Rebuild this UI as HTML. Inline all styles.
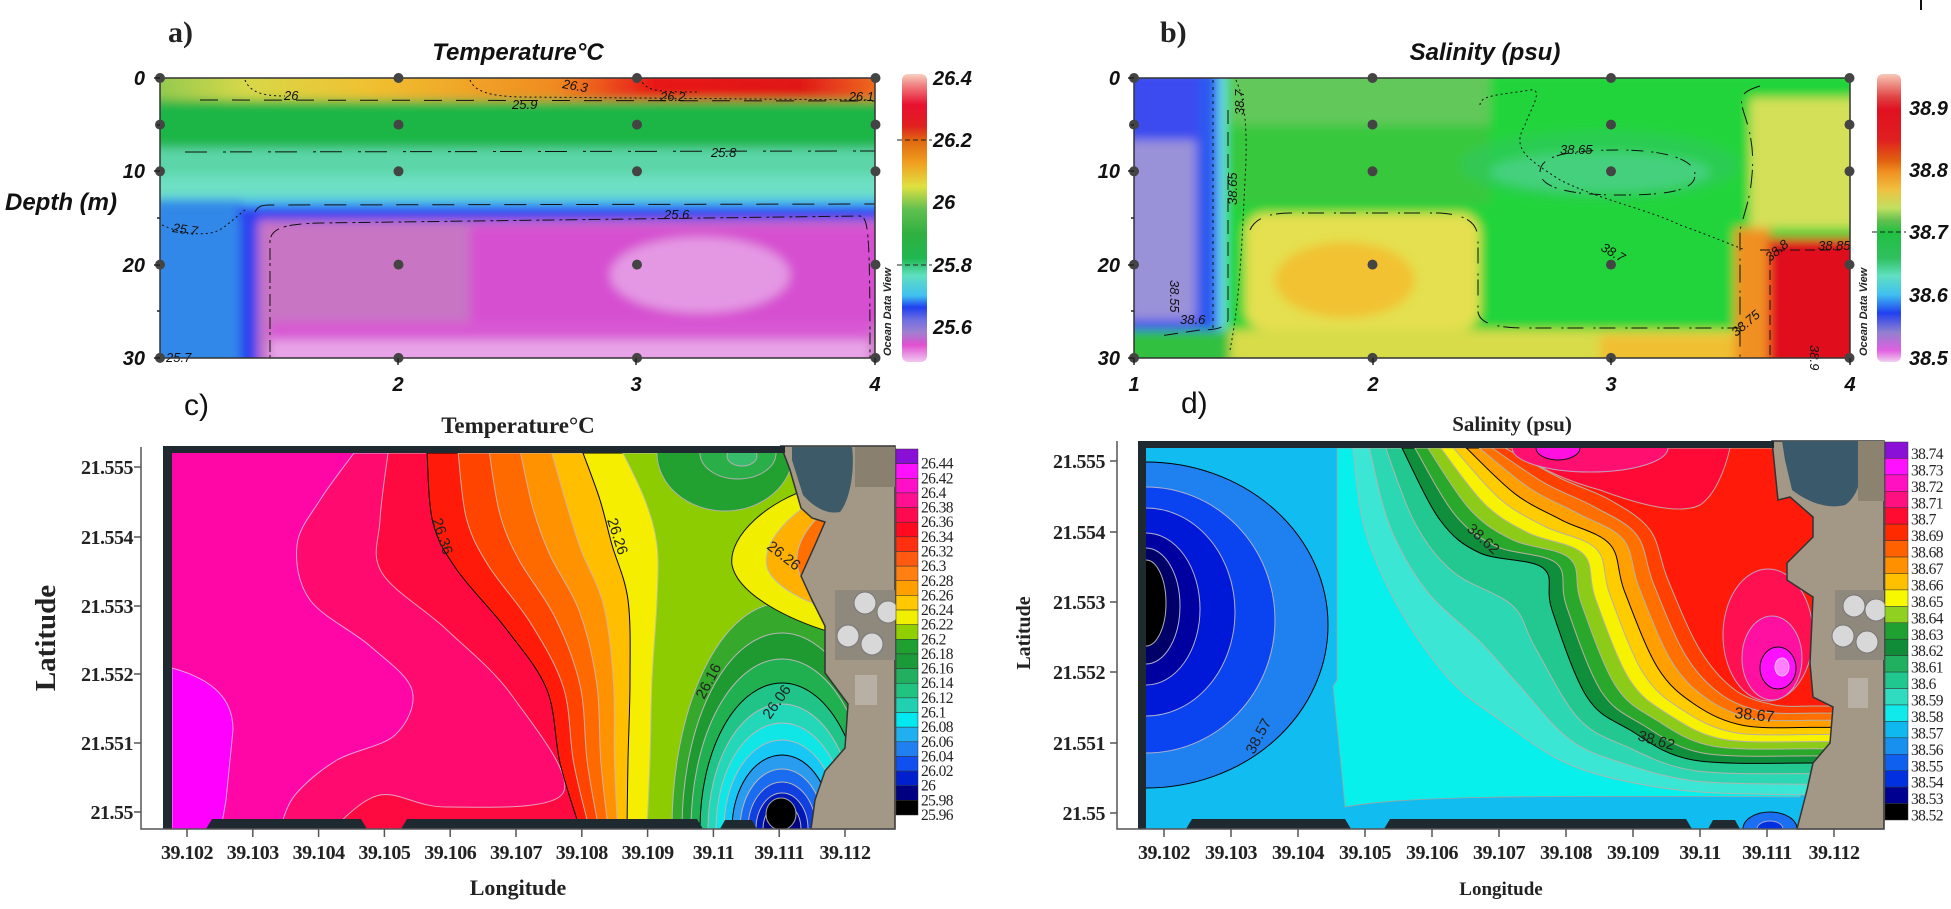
<!DOCTYPE html>
<html><head><meta charset="utf-8">
<style>
html,body{margin:0;padding:0;background:#fff;width:1951px;height:909px;overflow:hidden;}
body{position:relative;}
svg{position:absolute;left:0;top:0;display:block;}
.tk{font-family:"Liberation Sans",sans-serif;font-weight:bold;font-style:italic;font-size:20px;fill:#111;}
.ser{font-family:"Liberation Serif",serif;font-weight:bold;fill:#222;}
.cl{font-family:"Liberation Sans",sans-serif;font-style:italic;font-size:13px;fill:#111;}
.ml{font-family:"Liberation Sans",sans-serif;font-size:15px;fill:#222;}
.cb{font-family:"Liberation Serif",serif;font-size:15.5px;fill:#222;letter-spacing:-0.6px;}
</style></head><body>
<svg id="s" width="1951" height="909" viewBox="0 0 1951 909" xmlns="http://www.w3.org/2000/svg">
<defs>
<filter id="bl" x="-5%" y="-5%" width="110%" height="110%"><feGaussianBlur stdDeviation="5"/></filter>
<clipPath id="ca"><rect x="160" y="78" width="715" height="280"/></clipPath>
<clipPath id="cbp"><rect x="1134" y="78" width="716" height="280"/></clipPath>
<clipPath id="cc"><rect x="172" y="453" width="723" height="376"/></clipPath>
<clipPath id="cd"><rect x="1146" y="448" width="738" height="381"/></clipPath>
<linearGradient id="ta" x1="0" x2="1" y1="0" y2="0">
<stop offset="0" stop-color="#8cc850"/><stop offset="0.13" stop-color="#d8d848"/><stop offset="0.3" stop-color="#f0c030"/><stop offset="0.55" stop-color="#f08a20"/><stop offset="0.68" stop-color="#e81818"/><stop offset="0.88" stop-color="#e01818"/><stop offset="1" stop-color="#f07a20"/></linearGradient>
<linearGradient id="ga" x1="0" x2="0" y1="0" y2="1">
<stop offset="0" stop-color="#f8d0c0"/><stop offset="0.04" stop-color="#f08080"/><stop offset="0.107" stop-color="#e81030"/><stop offset="0.18" stop-color="#e02020"/><stop offset="0.234" stop-color="#e06a10"/><stop offset="0.31" stop-color="#f0a020"/><stop offset="0.39" stop-color="#e0e040"/><stop offset="0.47" stop-color="#60c050"/><stop offset="0.555" stop-color="#30b040"/><stop offset="0.64" stop-color="#20b850"/><stop offset="0.70" stop-color="#60e0c0"/><stop offset="0.77" stop-color="#40c0f0"/><stop offset="0.81" stop-color="#2040f0"/><stop offset="0.855" stop-color="#7070e0"/><stop offset="0.897" stop-color="#a080d0"/><stop offset="0.94" stop-color="#e050d0"/><stop offset="1" stop-color="#f0c8f0"/></linearGradient>
<linearGradient id="gb" x1="0" x2="0" y1="0" y2="1">
<stop offset="0" stop-color="#f8c8b8"/><stop offset="0.083" stop-color="#e04040"/><stop offset="0.124" stop-color="#e01020"/><stop offset="0.23" stop-color="#e02020"/><stop offset="0.30" stop-color="#e06010"/><stop offset="0.34" stop-color="#f09020"/><stop offset="0.40" stop-color="#f0c040"/><stop offset="0.466" stop-color="#c0e060"/><stop offset="0.51" stop-color="#60c050"/><stop offset="0.55" stop-color="#20c040"/><stop offset="0.64" stop-color="#30c060"/><stop offset="0.70" stop-color="#60e0c0"/><stop offset="0.766" stop-color="#40c0f0"/><stop offset="0.83" stop-color="#2040f0"/><stop offset="0.897" stop-color="#9080d0"/><stop offset="0.96" stop-color="#e060e0"/><stop offset="1" stop-color="#f0d0f0"/></linearGradient>
</defs>

<!-- ============ PANEL A ============ -->
<g clip-path="url(#ca)">
<g filter="url(#bl)">
<rect x="150" y="70" width="740" height="300" fill="#22b24a"/>
<rect x="150" y="70" width="740" height="30" fill="url(#ta)"/>
<rect x="150" y="100" width="740" height="45" fill="#1cb646"/>
<rect x="150" y="148" width="740" height="30" fill="#5cd6a8"/>
<rect x="150" y="176" width="740" height="26" fill="#6ee0c4"/>
<rect x="150" y="198" width="740" height="10" fill="#48c0ec"/>
<rect x="150" y="200" width="92" height="170" fill="#3088e8"/>
<rect x="238" y="206" width="650" height="14" fill="#2a40f0"/>
<rect x="240" y="206" width="18" height="170" fill="#2a40f0"/>
<rect x="258" y="220" width="630" height="150" fill="#c874c4"/>
<rect x="470" y="225" width="420" height="100" fill="#d650d0"/>
<ellipse cx="700" cy="275" rx="90" ry="38" fill="#e498e4"/>
<rect x="270" y="322" width="600" height="18" fill="#d858d4"/>
<rect x="270" y="340" width="600" height="25" fill="#e8a4e8"/>
</g>
</g>
<g fill="none" stroke="#111" stroke-width="1">
<path d="M245,80 C250,92 262,96 285,96" stroke-dasharray="2 3"/>
<path d="M470,80 C475,92 490,96 520,97 L875,100" stroke-dasharray="2 3"/>
<path d="M640,78 C645,92 660,92 700,92" stroke-dasharray="2 3"/>
<path d="M200,100 L875,101" stroke-dasharray="18 14"/>
<path d="M185,152 L875,151" stroke-dasharray="22 16 3 4"/>
<path d="M255,212 C258,206 262,205 270,205 L875,204" stroke-dasharray="22 14"/>
<path d="M270,358 L270,240 C272,228 285,224 320,223 L860,216 C868,218 870,225 870,358" stroke-dasharray="3 3 12 5"/>
<path d="M162,225 C180,233 200,236 215,232 C225,228 232,220 245,210" stroke-dasharray="2 3"/>
</g>
<text class="cl" x="284" y="100">26</text>
<text class="cl" x="512" y="109">25.9</text>
<text class="cl" x="660" y="101">26.2</text>
<text class="cl" x="562" y="88" transform="rotate(10 562 88)">26.3</text>
<text class="cl" x="874" y="101" text-anchor="end">26.1</text>
<text class="cl" x="711" y="157">25.8</text>
<text class="cl" x="664" y="219">25.6</text>
<text class="cl" x="172" y="232" transform="rotate(8 172 232)">25.7</text>
<text class="cl" x="166" y="362">25.7</text>
<rect x="160" y="78" width="715" height="280" fill="none" stroke="#333" stroke-width="1.5"/>
<g id="dotsA" fill="#444"></g>
<g stroke="#222" stroke-width="1.5">
<line x1="154" y1="78" x2="160" y2="78"/><line x1="154" y1="171" x2="160" y2="171"/><line x1="154" y1="265" x2="160" y2="265"/><line x1="154" y1="358" x2="160" y2="358"/>
<line x1="157" y1="218" x2="160" y2="218"/><line x1="157" y1="125" x2="160" y2="125"/><line x1="157" y1="311" x2="160" y2="311"/>
<line x1="398" y1="358" x2="398" y2="365"/><line x1="636" y1="358" x2="636" y2="365"/><line x1="875" y1="358" x2="875" y2="365"/>
</g>
<text class="tk" x="145" y="85" text-anchor="end">0</text>
<text class="tk" x="145" y="178" text-anchor="end">10</text>
<text class="tk" x="145" y="272" text-anchor="end">20</text>
<text class="tk" x="145" y="365" text-anchor="end">30</text>
<text class="tk" x="398" y="391" text-anchor="middle">2</text>
<text class="tk" x="636" y="391" text-anchor="middle">3</text>
<text class="tk" x="875" y="391" text-anchor="middle">4</text>
<text x="5" y="210" style="font-family:'Liberation Sans',sans-serif;font-weight:bold;font-style:italic;font-size:24px;fill:#111">Depth (m)</text>
<text x="168" y="42" class="ser" style="font-size:30px">a)</text>
<text x="518" y="60" text-anchor="middle" style="font-family:'Liberation Sans',sans-serif;font-weight:bold;font-style:italic;font-size:24px;fill:#111">Temperature°C</text>
<rect x="902" y="74" width="25" height="288" rx="6" fill="url(#ga)"/>
<line x1="897" y1="140" x2="932" y2="140" stroke="#222" stroke-dasharray="5 3"/>
<line x1="897" y1="265" x2="932" y2="265" stroke="#222" stroke-dasharray="5 3"/>
<text transform="translate(891,356) rotate(-90)" style="font-family:'Liberation Sans',sans-serif;font-style:italic;font-weight:bold;font-size:11px;fill:#222">Ocean Data View</text>
<text class="tk" x="933" y="85">26.4</text>
<text class="tk" x="933" y="147">26.2</text>
<text class="tk" x="933" y="209">26</text>
<text class="tk" x="933" y="272">25.8</text>
<text class="tk" x="933" y="334">25.6</text>

<!-- ============ PANEL B ============ -->
<g clip-path="url(#cbp)">
<g filter="url(#bl)">
<rect x="1120" y="70" width="750" height="300" fill="#24d43a"/>
<rect x="1230" y="70" width="260" height="60" fill="#62c85a"/>
<rect x="1230" y="125" width="260" height="80" fill="#38c83c"/>
<ellipse cx="1600" cy="172" rx="110" ry="20" fill="#62dcaa"/>
<ellipse cx="1600" cy="165" rx="140" ry="35" fill="#30c860" opacity="0.6"/>
<rect x="1245" y="213" width="235" height="117" rx="20" fill="#e4e050"/>
<ellipse cx="1345" cy="280" rx="70" ry="38" fill="#f2c232"/>
<rect x="1230" y="330" width="530" height="35" fill="#d8dc48"/>
<rect x="1600" y="335" width="160" height="30" fill="#f0c030"/>
<rect x="1750" y="98" width="110" height="130" fill="#d4e058"/>
<rect x="1735" y="228" width="35" height="140" fill="#f09020"/>
<rect x="1768" y="238" width="95" height="130" fill="#e00e1e"/>
<rect x="1120" y="70" width="100" height="262" fill="#3a4cf0"/>
<rect x="1128" y="140" width="68" height="180" fill="#9a92d8"/>
<rect x="1200" y="70" width="18" height="262" fill="#2a5af0"/>
<rect x="1218" y="70" width="8" height="262" fill="#70e0e8"/>
<rect x="1120" y="330" width="110" height="40" fill="#30c040"/>
</g>
</g>
<g fill="none" stroke="#111" stroke-width="1">
<path d="M1213,80 L1213,330" stroke-dasharray="3 4"/>
<path d="M1228,110 L1228,320 C1226,328 1215,330 1200,330 L1160,336" stroke-dasharray="14 8"/>
<path d="M1236,80 C1245,100 1248,130 1245,180 C1242,240 1240,300 1230,350" stroke-dasharray="2 3"/>
<path d="M1250,230 C1255,218 1270,213 1290,213 L1440,213 C1470,215 1478,225 1478,240 L1478,312 C1480,325 1500,328 1530,328 L1740,328" stroke-dasharray="16 10 2 4"/>
<path d="M1480,105 C1480,95 1500,95 1530,90 C1545,88 1530,110 1525,125 C1510,150 1530,160 1560,180 C1600,200 1650,210 1680,225 C1700,232 1720,240 1745,250" stroke-dasharray="2 3"/>
<path d="M1540,172 C1540,155 1570,150 1620,150 C1660,150 1695,158 1695,175 C1695,190 1670,195 1620,195 C1570,195 1540,188 1540,172Z" stroke-dasharray="12 8 2 3"/>
<path d="M1760,86 C1720,98 1758,110 1752,175 C1750,200 1745,210 1740,230 L1740,358" stroke-dasharray="18 8 2 4"/>
<path d="M1760,250 L1840,250 M1770,255 L1770,358" stroke-dasharray="10 5"/>
</g>
<text class="cl" transform="translate(1244,115) rotate(-90)">38.7</text>
<text class="cl" transform="translate(1237,205) rotate(-90)">38.65</text>
<text class="cl" transform="translate(1170,280) rotate(90)">38.55</text>
<text class="cl" x="1180" y="324">38.6</text>
<text class="cl" x="1560" y="154">38.65</text>
<text class="cl" transform="translate(1600,250) rotate(30)">38.7</text>
<text class="cl" transform="translate(1736,337) rotate(-40)">38.75</text>
<text class="cl" transform="translate(1770,262) rotate(-40)">38.8</text>
<text class="cl" x="1818" y="250">38.85</text>
<text class="cl" transform="translate(1810,345) rotate(90)">38.9</text>
<rect x="1134" y="78" width="716" height="280" fill="none" stroke="#333" stroke-width="1.5"/>
<g id="dotsB" fill="#444"></g>
<g stroke="#222" stroke-width="1.5">
<line x1="1128" y1="78" x2="1134" y2="78"/><line x1="1128" y1="171" x2="1134" y2="171"/><line x1="1128" y1="265" x2="1134" y2="265"/><line x1="1128" y1="358" x2="1134" y2="358"/>
<line x1="1131" y1="218" x2="1134" y2="218"/><line x1="1131" y1="125" x2="1134" y2="125"/><line x1="1131" y1="311" x2="1134" y2="311"/>
<line x1="1134" y1="358" x2="1134" y2="365"/><line x1="1373" y1="358" x2="1373" y2="365"/><line x1="1611" y1="358" x2="1611" y2="365"/><line x1="1850" y1="358" x2="1850" y2="365"/>
</g>
<text class="tk" x="1120" y="85" text-anchor="end">0</text>
<text class="tk" x="1120" y="178" text-anchor="end">10</text>
<text class="tk" x="1120" y="272" text-anchor="end">20</text>
<text class="tk" x="1120" y="365" text-anchor="end">30</text>
<text class="tk" x="1134" y="391" text-anchor="middle">1</text>
<text class="tk" x="1373" y="391" text-anchor="middle">2</text>
<text class="tk" x="1611" y="391" text-anchor="middle">3</text>
<text class="tk" x="1850" y="391" text-anchor="middle">4</text>
<text x="1160" y="42" class="ser" style="font-size:30px">b)</text>
<text x="1485" y="60" text-anchor="middle" style="font-family:'Liberation Sans',sans-serif;font-weight:bold;font-style:italic;font-size:24px;fill:#111">Salinity (psu)</text>
<rect x="1877" y="74" width="24" height="288" rx="6" fill="url(#gb)"/>
<line x1="1872" y1="232" x2="1906" y2="232" stroke="#222" stroke-dasharray="5 3"/>
<text transform="translate(1867,356) rotate(-90)" style="font-family:'Liberation Sans',sans-serif;font-style:italic;font-weight:bold;font-size:11px;fill:#222">Ocean Data View</text>
<text class="tk" x="1909" y="115">38.9</text>
<text class="tk" x="1909" y="177">38.8</text>
<text class="tk" x="1909" y="239">38.7</text>
<text class="tk" x="1909" y="302">38.6</text>
<text class="tk" x="1909" y="365">38.5</text>
<line x1="1921" y1="0" x2="1921" y2="10" stroke="#111" stroke-width="2"/>

<!-- ============ PANEL C ============ -->
<g clip-path="url(#cc)">
<rect x="172" y="453" width="723" height="376" fill="#ff06a6"/>
<path d="M172,668 C215,680 233,700 233,730 L226,800 L221,829 L172,829 Z" fill="#ff00ff" stroke="#e8a0e8" stroke-width="1"/>
<g id="cBands"></g>
<ellipse cx="725" cy="453" rx="68" ry="58" fill="#22a030" stroke="#b0b0b0" stroke-width="1"/>
<ellipse cx="738" cy="453" rx="38" ry="26" fill="#2aae48" stroke="#b0b0b0" stroke-width="1"/>
<ellipse cx="742" cy="456" rx="15" ry="10" fill="#36bc6a" stroke="#b0b0b0" stroke-width="1"/>
<g id="cBasin"></g>
<path d="M812,488 C770,500 728,535 732,565 C738,595 790,620 830,632 L830,488 Z" fill="#f2ee00" stroke="#111" stroke-width="1"/>
<path d="M815,500 C782,520 760,548 768,570 C778,590 808,602 830,610 L830,500Z" fill="#ffb000" stroke="#bbb"/>
<path d="M820,515 C800,535 792,555 800,575 L830,590 L830,515Z" fill="#ff7000" stroke="#bbb"/>
</g>
<g id="cLand"></g>
<rect x="163" y="446" width="622" height="7" fill="#1e2a30"/>
<rect x="163" y="446" width="9" height="383" fill="#1e2a30"/>
<path d="M206,829 L212,819 L361,819 L367,829Z M401,829 L407,819 L697,819 L703,829Z M720,829 L725,820 L752,820 L757,829Z" fill="#1e2a30"/>
<g id="cAxes"></g>
<text class="ml" transform="translate(432,520) rotate(72)">26.36</text>
<text class="ml" transform="translate(607,520) rotate(72)">26.26</text>
<text class="ml" transform="translate(766,548) rotate(38)">26.26</text>
<text class="ml" transform="translate(704,700) rotate(-62)">26.16</text>
<text class="ml" transform="translate(770,720) rotate(-55)">26.06</text>
<text x="184" y="415" style="font-family:'Liberation Sans',sans-serif;font-size:30px;fill:#111">c)</text>
<text x="518" y="433" text-anchor="middle" class="ser" style="font-size:23px;font-weight:bold">Temperature°C</text>
<text x="518" y="895" text-anchor="middle" class="ser" style="font-size:22px">Longitude</text>
<text transform="translate(55,638) rotate(-90)" text-anchor="middle" class="ser" style="font-size:29px">Latitude</text>

<!-- ============ PANEL D ============ -->
<g clip-path="url(#cd)">
<rect x="1146" y="448" width="738" height="381" fill="#10bcf0"/>
<path d="M1337,448 L1337,680 L1333,686 L1345,807 C1400,797 1500,795 1800,797 L1800,448Z" fill="#08f0ec" stroke="#a0a0a0" stroke-width="0.8"/>
<g id="dBands"></g>
<ellipse cx="1590" cy="448" rx="78" ry="24" fill="#ff1070" stroke="#c0a0c0"/>
<ellipse cx="1558" cy="448" rx="22" ry="12" fill="#ff10e0" stroke="#111"/>
<ellipse cx="1768" cy="635" rx="45" ry="66" fill="#ff1050" stroke="#c0a0c0"/>
<ellipse cx="1772" cy="658" rx="30" ry="42" fill="#ff10a0" stroke="#c0a0c0"/>
<ellipse cx="1778" cy="668" rx="18" ry="21" fill="#ff10ff" stroke="#111"/>
<ellipse cx="1782" cy="667" rx="7" ry="9" fill="#ff80ff" stroke="#f0c0f0"/>
<g id="dBasin"></g>
<ellipse cx="1770" cy="829" rx="27" ry="17" fill="#1a70f0" stroke="#111"/>
<ellipse cx="1770" cy="829" rx="13" ry="8" fill="#0030e0" stroke="#a0a0e0"/>
</g>
<g id="dLand"></g>
<rect x="1138" y="441" width="636" height="7" fill="#1e2a30"/>
<rect x="1138" y="441" width="8" height="388" fill="#1e2a30"/>
<path d="M1186,829 L1192,819 L1345,819 L1351,829Z M1384,829 L1390,819 L1686,819 L1692,829Z M1708,829 L1713,820 L1735,820 L1740,829Z" fill="#1e2a30"/>
<g id="dAxes"></g>
<text class="ml" transform="translate(1466,530) rotate(42)">38.62</text>
<text class="ml" transform="translate(1637,740) rotate(16)">38.62</text>
<text class="ml" transform="translate(1734,718) rotate(6)" style="font-size:16px">38.67</text>
<text class="ml" transform="translate(1254,755) rotate(-62)">38.57</text>
<text x="1181" y="413" style="font-family:'Liberation Sans',sans-serif;font-size:30px;fill:#111">d)</text>
<text x="1512" y="431" text-anchor="middle" class="ser" style="font-size:21px">Salinity (psu)</text>
<text x="1501" y="895" text-anchor="middle" class="ser" style="font-size:19px">Longitude</text>
<text transform="translate(1030,633) rotate(-90)" text-anchor="middle" class="ser" style="font-size:20px">Latitude</text>
<g id="cbC"></g>
<g id="cbD"></g>
</svg>
<script>
(function(){
const NS="http://www.w3.org/2000/svg";
function el(parent,tag,attrs,text){const e=document.createElementNS(NS,tag);for(const k in attrs)e.setAttribute(k,attrs[k]);if(text!==undefined)e.textContent=text;document.getElementById(parent).appendChild(e);return e;}
function smooth(p){let d="M"+p[0][0]+","+p[0][1];for(let i=0;i<p.length-1;i++){const p0=p[i-1]||p[i],p1=p[i],p2=p[i+1],p3=p[i+2]||p2;const c1=[p1[0]+(p2[0]-p0[0])/6,p1[1]+(p2[1]-p0[1])/6],c2=[p2[0]-(p3[0]-p1[0])/6,p2[1]-(p3[1]-p1[1])/6];d+=" C"+c1[0].toFixed(1)+","+c1[1].toFixed(1)+" "+c2[0].toFixed(1)+","+c2[1].toFixed(1)+" "+p2[0]+","+p2[1];}return d;}
function lerp(A,B,t){return A.map((a,i)=>[+(a[0]+(B[i][0]-a[0])*t).toFixed(1),+(a[1]+(B[i][1]-a[1])*t).toFixed(1)]);}
[[160,'dotsA'],[1134,'dotsB']].forEach(([x0,id])=>{for(let s=0;s<4;s++)for(const dd of [0,5,10,20,30]){el(id,'circle',{cx:x0+238.5*s,cy:78+9.33*dd,r:5});}});
const PC1=[[354,453],[320,500],[297,545],[310,600],[370,646],[412,690],[395,735],[337,760],[295,795],[280,829]];
el('cBands','path',{d:smooth(PC1)+" L895,829 L895,453 Z",fill:"#ff0a6e",stroke:"#e8a0e8","stroke-width":1});
const PC2=[[388,453],[380,520],[382,573],[447,630],[513,697],[563,793],[447,807],[380,795],[332,829]];
el('cBands','path',{d:smooth(PC2)+" L895,829 L895,453 Z",fill:"#ff0a40",stroke:"#e8a0c0","stroke-width":1});
const R=[[427,453],[433,523],[457,570],[507,630],[547,690],[560,763],[580,829]];
const Y=[[583,453],[600,500],[612,545],[628,600],[630,680],[628,760],[627,829]];
const Q=[[623,453],[645,500],[657,545],[657,600],[652,680],[650,760],[647,829]];
const cc=["#ff1a0a","#ff4400","#ff6a00","#ff9200","#ffbe00"];
for(let i=0;i<5;i++){const b=lerp(R,Y,i/5);el('cBands','path',{d:smooth(b)+" L895,829 L895,453 Z",fill:cc[i],stroke:i==0?"#000":"#d8b0a0","stroke-width":1});}
el('cBands','path',{d:smooth(Y)+" L895,829 L895,453 Z",fill:"#f5ee00",stroke:"#000","stroke-width":1});
el('cBands','path',{d:smooth(Q)+" L895,829 L895,453 Z",fill:"#8ccc00",stroke:"#c0c0a0","stroke-width":1});
const bas=[["#36a82c",110,226],["#1f9a30",100,196],["#20b050",91,170],["#20c488",82,146],["#22d8b8",74,125],["#10e6e6",66,106],["#18c8f4",58,89],["#2a9cf0",50,74],["#1a6cf0",42,60],["#1040e0",34,47],["#0018b8",26,36],["#000080",19,26]];
bas.forEach((b,i)=>el('cBasin','ellipse',{cx:782,cy:829,rx:b[1],ry:b[2],fill:b[0],stroke:(i==3||i==7)?"#000":"#b8b8b8","stroke-width":1}));
el('cBasin','ellipse',{cx:781,cy:814,rx:15,ry:16,fill:"#000",stroke:"#aaa"});
const coastC="M781,446 L790,470 L801,508 L812,518 L825,522 L815,545 L801,576 L812,600 L825,626 L825,673 L848,704 L845,748 L825,771 L815,800 L811,829 L895,829 L895,446 Z";
el('cLand','path',{d:coastC,fill:"#a39886",stroke:"#333","stroke-width":1.5});
el('cLand','path',{d:"M792,447 L852,447 C855,470 850,500 840,512 C825,515 812,505 803,495 L792,460Z",fill:"#3d5a68"});
el('cLand','rect',{x:855,y:447,width:40,height:40,fill:"#8a8070"});
el('cLand','rect',{x:835,y:590,width:60,height:70,fill:"#8f887c"});
[[865,603],[888,612],[848,636],[872,644]].forEach(p=>el('cLand','circle',{cx:p[0],cy:p[1],r:11,fill:"#d8d8d8",stroke:"#777"}));
el('cLand','rect',{x:855,y:675,width:22,height:30,fill:"#b8b0a4"});
const labC=["26.44","26.42","26.4","26.38","26.36","26.34","26.32","26.3","26.28","26.26","26.24","26.22","26.2","26.18","26.16","26.14","26.12","26.1","26.08","26.06","26.04","26.02","26","25.98","25.96"];
const colC=["#8a10d8","#ff10ff","#ff10c8","#ff1090","#ff0a50","#ff0a20","#ff3010","#ff5a10","#ff8010","#ffa000","#ffc800","#f0f000","#90d000","#20a030","#1a9a38","#20b060","#20c480","#20d0b0","#00e8f0","#20b0f0","#2080f0","#1050f0","#0020d0","#000080","#000000"];
for(let i=0;i<25;i++){el('cbC','rect',{x:896,y:449+14.64*i,width:22,height:14.64,fill:colC[i],stroke:"#333","stroke-width":0.5});el('cbC','text',{x:921,y:449+14.64*(i+1)+5,class:"cb"},labC[i]);}
el('cAxes','path',{d:"M141,447 L141,829 L895,829",fill:"none",stroke:"#555","stroke-width":1.5});
const latY=[467,537,606,674,743,812],latL=["21.555","21.554","21.553","21.552","21.551","21.55"];
latY.forEach((y,i)=>{el('cAxes','line',{x1:134,y1:y,x2:141,y2:y,stroke:"#555","stroke-width":1.5});el('cAxes','text',{x:133,y:y+7,"text-anchor":"end",class:"ser",style:"font-size:20px;letter-spacing:-0.5px"},latL[i]);});
const lonL=["39.102","39.103","39.104","39.105","39.106","39.107","39.108","39.109","39.11","39.111","39.112"];
lonL.forEach((l,i)=>{const x=187+65.8*i;el('cAxes','line',{x1:x,y1:829,x2:x,y2:837,stroke:"#555","stroke-width":1.5});el('cAxes','text',{x:x,y:859,"text-anchor":"middle",class:"ser",style:"font-size:20px;letter-spacing:-0.5px"},l);});
const C=[[1353,448],[1365,530],[1400,610],[1450,680],[1500,720],[1560,760],[1620,780],[1700,792],[1813,795]];
const A=[[1402,448],[1440,520],[1480,553],[1543,568],[1552,610],[1587,697],[1630,730],[1693,760],[1813,763]];
const B=[[1505,448],[1560,478],[1610,500],[1650,530],[1668,580],[1700,650],[1735,690],[1775,705],[1813,706]];
const low=["#3ce6d4","#2cd8b4","#22c890"];
for(let i=0;i<3;i++){el('dBands','path',{d:smooth(lerp(C,A,i/3))+" L1884,800 L1884,448 Z",fill:low[i],stroke:"#a8b8b0","stroke-width":1});}
const hi=["#0f8f3c","#2aa82c","#8ccc18","#f6f200","#ffcc00","#ffa000","#ff7000","#ff4000","#ff1a0a"];
for(let i=0;i<9;i++){const b=lerp(A,B,i/8);el('dBands','path',{d:smooth(b)+" L1884,"+b[b.length-1][1]+" L1884,448 Z",fill:hi[i],stroke:(i==0||i==5)?"#000":"#b8b0a0","stroke-width":1});}
el('dBands','path',{d:"M1513,448 C1540,470 1570,482 1600,490 C1640,505 1680,515 1700,505 C1715,495 1725,470 1730,448Z",fill:"#ff0a36",stroke:"#c8a0a0"});
const bd=[["#1f80f0",182,625,163,"#000"],["#0a44f0",129,620,133,"#b0b0d0"],["#0018d8",89,612,104,"#b0b0d0"],["#0000a0",54,609,76,"#b0b0d0"],["#000068",34,606,58,"#b0b0d0"],["#000000",20,603,43,"#b0b0b0"]];
bd.forEach(b=>el('dBasin','ellipse',{cx:1146,cy:b[2],rx:b[1],ry:b[3],fill:b[0],stroke:b[4],"stroke-width":1}));
const coastD="M1772,441 L1778,500 L1790,497 L1813,517 L1813,537 L1787,563 L1787,580 L1813,597 L1810,663 L1813,697 L1833,707 L1830,743 L1813,763 L1807,790 L1797,829 L1884,829 L1884,441 Z";
el('dLand','path',{d:coastD,fill:"#a39886",stroke:"#333","stroke-width":1.5});
el('dLand','path',{d:"M1782,441 L1860,441 C1865,470 1860,495 1845,505 C1825,510 1805,500 1792,490 L1785,460Z",fill:"#3a5a6c"});
el('dLand','rect',{x:1858,y:441,width:26,height:60,fill:"#8c8270"});
el('dLand','rect',{x:1835,y:590,width:49,height:70,fill:"#8f887c"});
[[1854,606],[1876,610],[1843,636],[1867,642]].forEach(p=>el('dLand','circle',{cx:p[0],cy:p[1],r:11,fill:"#d8d8d8",stroke:"#777"}));
el('dLand','rect',{x:1848,y:678,width:20,height:30,fill:"#b8b0a4"});
const colD=["#8a10d8","#ff10ff","#ff10c0","#ff1080","#ff0a30","#ff2a00","#ff6000","#ff9000","#ffc000","#f8f800","#90d020","#20a030","#108c38","#20b060","#20c890","#30dcc0","#10eaea","#10b8f0","#1890f0","#1060f0","#0030e0","#000090","#000000"];
const labD=["38.74","38.73","38.72","38.71","38.7","38.69","38.68","38.67","38.66","38.65","38.64","38.63","38.62","38.61","38.6","38.59","38.58","38.57","38.56","38.55","38.54","38.53","38.52"];
const h=378/23;
for(let i=0;i<23;i++){el('cbD','rect',{x:1885,y:442+h*i,width:23,height:h,fill:colD[i],stroke:"#333","stroke-width":0.5});el('cbD','text',{x:1911,y:442+h*i+17,class:"cb"},labD[i]);}
el('dAxes','path',{d:"M1117,441 L1117,829 L1884,829",fill:"none",stroke:"#555","stroke-width":1.5});
const latYD=[461,532,602,672,743,813];
latYD.forEach((y,i)=>{el('dAxes','line',{x1:1110,y1:y,x2:1117,y2:y,stroke:"#555","stroke-width":1.5});el('dAxes','text',{x:1105,y:y+7,"text-anchor":"end",class:"ser",style:"font-size:20px;letter-spacing:-0.5px"},latL[i]);});
lonL.forEach((l,i)=>{const x=1164+67*i;el('dAxes','line',{x1:x,y1:829,x2:x,y2:837,stroke:"#555","stroke-width":1.5});el('dAxes','text',{x:x,y:859,"text-anchor":"middle",class:"ser",style:"font-size:20px;letter-spacing:-0.5px"},l);});
})();
</script>
</body></html>
